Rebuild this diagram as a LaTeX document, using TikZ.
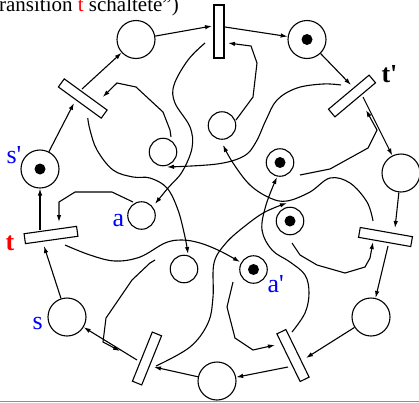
\documentclass[tikz,border=0pt]{standalone}
\usepackage{fontspec}
\setmainfont{Liberation Serif}
\usetikzlibrary{arrows.meta,calc}
\begin{document}
\begin{tikzpicture}[x=1pt,y=-1pt,line width=1.1pt,
  place/.style={circle,draw,minimum size=38pt,inner sep=0pt},
  iplace/.style={circle,draw,minimum size=27.5pt,inner sep=0pt},
  trans/.style={rectangle,draw,minimum width=53pt,minimum height=10pt,inner sep=0pt},
  tok/.style={circle,fill,minimum size=11pt,inner sep=0pt},
  arr/.style={-{Latex[length=7pt,width=4.5pt]}},
  lab/.style={font=\fontsize{26}{26}\selectfont,anchor=base west,inner sep=0pt},
  smoothc/.style={smooth,tension=0.6}]
\useasboundingbox (0,0) rectangle (419,402);
\draw[line width=1pt,color={rgb,255:red,225;green,110;blue,110}] (0,401.3) -- (419,401.3);
\node[anchor=base west,inner sep=0pt,font=\fontsize{21}{21}\selectfont] (title) at (-13.5,11) {Transition \textcolor{red}{t} schaltete")};
% outer places
\node[place] (P1) at (136,39.5) {};
\node[place] (P2) at (307,39.5) {};
\node[tok] (P2t) at (P2) {};
\node[place] (P3) at (401,173) {};
\node[place] (P4) at (371,317) {};
\node[place] (P5) at (217,381) {};
\node[place] (S) at (67,317) {};
\node[place] (Sp) at (40,169) {};
\node[tok] (Spt) at (Sp) {};
% inner places
\node[iplace] (A) at (141.5,215.5) {};
\node[iplace] (Q7) at (184,269) {};
\node[iplace] (Ap) at (253.5,269.5) {};
\node[tok] (Apt) at (Ap) {};
\node[iplace] (Q5) at (290,221) {};
\node[tok] (Q5t) at (Q5) {};
\node[iplace] (Q4) at (280,162.5) {};
\node[tok] (Q4t) at (Q4) {};
\node[iplace] (Q3) at (222,125.5) {};
\node[iplace] (Q2) at (163,152) {};
% transitions
\node[trans,minimum width=10pt,minimum height=53pt] (T1) at (219,31.5) {};
\node[trans,rotate=40] (T2) at (352,96) {};
\node[trans,rotate=-10] (T3) at (385.5,237) {};
\node[trans,rotate=-64] (T4) at (293,355.5) {};
\node[trans,rotate=68] (T5) at (147,358.5) {};
\node[trans,rotate=8] (T6) at (51,235) {};
\node[trans,rotate=-36] (T7) at (82.75,98.5) {};
% labels
\node[lab,text=blue] (ls) at (32,329) {s};
\node[lab,text=blue] (lsp) at (6,163) {s\textquotesingle};
\node[lab,text=red,font=\fontsize{26}{26}\selectfont\bfseries] (lt) at (5,250) {t};
\node[lab,font=\fontsize{26}{26}\selectfont\bfseries] (ltp) at (381,82) {t\textquotesingle};
\node[lab,text=blue] (la) at (112,226) {a};
\node[lab,text=blue] (lap) at (267,292) {a\textquotesingle};
% outer arcs
\draw[arr] (P1) -- ([shift={(-7,-5.5)}]T1.center);
\draw[arr] ([shift={(6,-4.5)}]T1.center) -- (P2);
\draw[arr] (P2) -- ([shift={(-1,-11)}]T2.center);
\draw[arr] ([shift={(11,1)}]T2.center) -- (P3);
\draw[arr] (P3) -- ([shift={(9.5,-9)}]T3.center);
\draw[arr] ([shift={(2.5,9)}]T3.center) -- (P4);
\draw[arr] (P4) -- ([shift={(13,2.5)}]T4.center);
\draw[arr] ([shift={(-5,11.5)}]T4.center) -- (P5);
\draw[arr] (P5) -- ([shift={(7,8.5)}]T5.center);
\draw[arr] ([shift={(-10,1.5)}]T5.center) -- (S);
\draw[arr] (S) -- ([shift={(-7,11)}]T6.center);
\draw[arr] ([shift={(-11,-5)}]T6.center) -- (Sp);
\draw[arr] (Sp) -- ([shift={(-8.75,4.5)}]T7.center);
\draw[arr] ([shift={(-0.75,-9.5)}]T7.center) -- (P1);
% inner arcs
\draw[arr] ([shift={(14,-5.5)}]Q3.center) -- (253,97) -- (257,63) -- (251,46) -- ([shift={(9,11.5)}]T1.center);
\draw[arr] plot[smoothc] coordinates {([shift={(-14,11.5)}]T1.center) (188,60) (174,85) (175,103) (190,127) (192,148) (182,172) (168,188) ([shift={(13.5,-11.5)}]A.center)};
\draw[arr] ([shift={(20,12.5)}]Q4.center) -- (330,169) -- (368,148) -- (377,130) -- ([shift={(14,14)}]T2.center);
\draw[arr] plot[smoothc] coordinates {([shift={(-11,-11)}]T2.center) (323,84) (297,88) (277,100) (266,120) (256,142) (244,156) (217,164) ([shift={(4,15)}]Q2.center)};
\draw[arr] ([shift={(2,22)}]Q5.center) -- (300,255) -- (317,265) -- (345,273) -- (365,267) -- (370,258) -- ([shift={(-12.5,5)}]T3.center);
\draw[arr] plot[smoothc] coordinates {([shift={(-12.5,-16)}]T3.center) (367,202) (350,183) (330,178) (310,192) (287,201) (270,198) (250,185) (233,163) ([shift={(1,19.5)}]Q3.center)};
\draw[arr] ([shift={(-20.5,12.5)}]Ap.center) -- (227,307) -- (235,338) -- (253,350) -- ([shift={(-18,-10.5)}]T4.center);
\draw[arr] plot[smoothc] coordinates {([shift={(-1,-23.5)}]T4.center) (305,313) (309,293) (305,275) (290,262) (272,250) (262,230) (266,205) ([shift={(-3,14.5)}]Q4.center)};
\draw[arr] ([shift={(-29,-9)}]Q7.center) -- (150,263) -- (132,280) -- (106,318) -- (103,342) -- ([shift={(-27,-7.5)}]T5.center);
\draw[arr] plot[smoothc] coordinates {([shift={(9,7.5)}]T5.center) (190,347) (208,323) (213,297) (214,263) (226,243) (245,226) (265,212) ([shift={(-3,-18)}]Q5.center)};
\draw[arr] ([shift={(-8.5,-13.5)}]A.center) -- (112,192) -- (75,192) -- (59,202) -- ([shift={(8,-13)}]T6.center);
\draw[arr] plot[smoothc] coordinates {([shift={(14,10)}]T6.center) (90,255) (115,261) (140,257) (165,243) (182,240) (200,243) (220,251) ([shift={(-13.5,-7.5)}]Ap.center)};
\draw[arr] ([shift={(8,-15)}]Q2.center) -- (170,130) -- (163,112) -- (136,87) -- (117,83) -- ([shift={(20,-1.5)}]T7.center);
\draw[arr] plot[smoothc] coordinates {([shift={(5,19.5)}]T7.center) (90,130) (97,150) (113,170) (133,177) (150,178) (167,188) (178,210) (185,237) ([shift={(4,-15)}]Q7.center)};
\end{tikzpicture}
\end{document}
